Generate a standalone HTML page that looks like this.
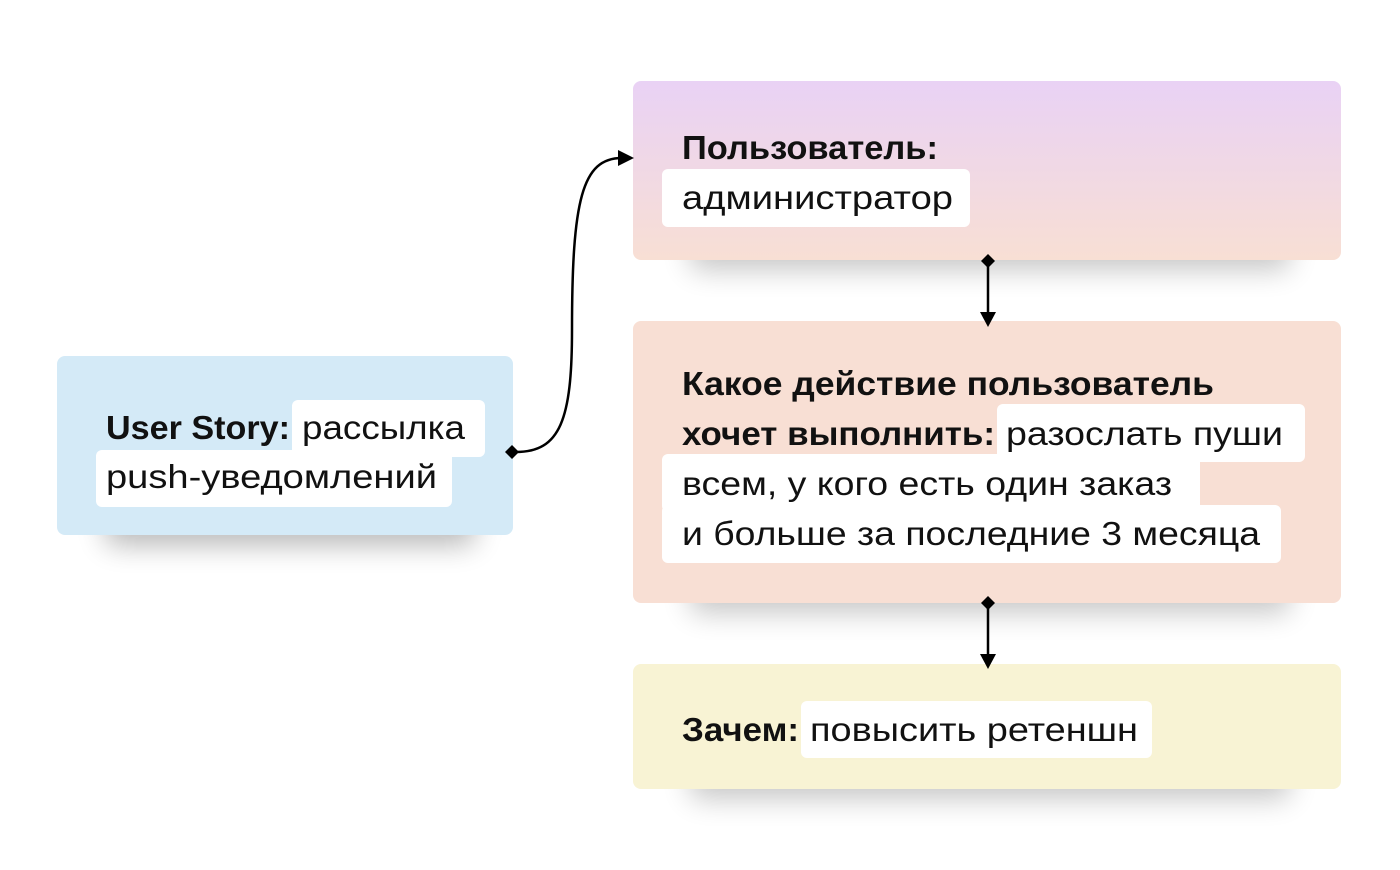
<!DOCTYPE html>
<html><head><meta charset="utf-8"><style>
html,body{margin:0;padding:0;background:#fff;width:1400px;height:870px;overflow:hidden}
svg text{font-family:"Liberation Sans","DejaVu Sans",sans-serif;font-size:33px;fill:#111}
.b{font-weight:bold}
</style></head><body>
<svg width="1400" height="870" viewBox="0 0 1400 870" xmlns="http://www.w3.org/2000/svg">
<defs>
<linearGradient id="g1" x1="0" y1="0" x2="0" y2="1"><stop offset="0" stop-color="#e9d2f5"/><stop offset="1" stop-color="#f8dfd4"/></linearGradient>
<filter id="sh" x="-30%" y="-100%" width="160%" height="300%"><feGaussianBlur stdDeviation="14"/></filter>
</defs>
<!-- shadows -->
<rect x="105" y="495" width="370" height="50" rx="10" fill="#000" opacity="0.28" filter="url(#sh)"/>
<rect x="690" y="220" width="600" height="50" rx="10" fill="#000" opacity="0.22" filter="url(#sh)"/>
<rect x="690" y="563" width="600" height="50" rx="10" fill="#000" opacity="0.22" filter="url(#sh)"/>
<rect x="690" y="749" width="600" height="50" rx="10" fill="#000" opacity="0.22" filter="url(#sh)"/>
<!-- boxes -->
<rect x="57" y="356" width="456" height="179" rx="8" fill="#d4eaf7"/>
<rect x="633" y="81" width="708" height="179" rx="8" fill="url(#g1)"/>
<rect x="633" y="321" width="708" height="282" rx="8" fill="#f8dfd4"/>
<rect x="633" y="664" width="708" height="125" rx="8" fill="#f8f3d4"/>
<!-- highlights -->
<g fill="#fff">
<rect x="292" y="400" width="193" height="57" rx="6"/>
<rect x="96" y="450" width="356" height="57" rx="6"/>
<rect x="662" y="169" width="308" height="58" rx="6"/>
<rect x="997" y="404" width="308" height="58" rx="6"/>
<rect x="662" y="454" width="538" height="58" rx="6"/>
<rect x="662" y="505" width="619" height="58" rx="6"/>
<rect x="801" y="701" width="351" height="57" rx="6"/>
</g>
<!-- text -->
<text class="b" x="106" y="439" textLength="184" lengthAdjust="spacingAndGlyphs">User Story:</text>
<text x="302" y="439" textLength="163" lengthAdjust="spacingAndGlyphs">рассылка</text>
<text x="106" y="488" textLength="331" lengthAdjust="spacingAndGlyphs">push-уведомлений</text>
<text class="b" x="682" y="159" textLength="256" lengthAdjust="spacingAndGlyphs">Пользователь:</text>
<text x="682" y="209" textLength="271" lengthAdjust="spacingAndGlyphs">администратор</text>
<text class="b" x="682" y="395" textLength="532" lengthAdjust="spacingAndGlyphs">Какое действие пользователь</text>
<text class="b" x="682" y="445" textLength="313" lengthAdjust="spacingAndGlyphs">хочет выполнить:</text>
<text x="1006" y="445" textLength="277" lengthAdjust="spacingAndGlyphs">разослать пуши</text>
<text x="682" y="495" textLength="490" lengthAdjust="spacingAndGlyphs">всем, у кого есть один заказ</text>
<text x="682" y="545" textLength="578" lengthAdjust="spacingAndGlyphs">и больше за последние 3 месяца</text>
<text class="b" x="682" y="741" textLength="117" lengthAdjust="spacingAndGlyphs">Зачем:</text>
<text x="810" y="741" textLength="328" lengthAdjust="spacingAndGlyphs">повысить ретеншн</text>
<!-- connectors -->
<g stroke="#000" stroke-width="2.5" fill="none">
<path d="M516,452 C560,452 572,420 572,330 C572,200 582,158 622,158"/>
<line x1="988" y1="262" x2="988" y2="314"/>
<line x1="988" y1="604" x2="988" y2="656"/>
</g>
<g fill="#000">
<polygon points="505,452 512,445 519,452 512,459"/>
<polygon points="634,158 618,150 618,166"/>
<polygon points="988,254 995,261 988,268 981,261"/>
<polygon points="988,327 980,312 996,312"/>
<polygon points="988,596 995,603 988,610 981,603"/>
<polygon points="988,669 980,654 996,654"/>
</g>
</svg>
</body></html>
